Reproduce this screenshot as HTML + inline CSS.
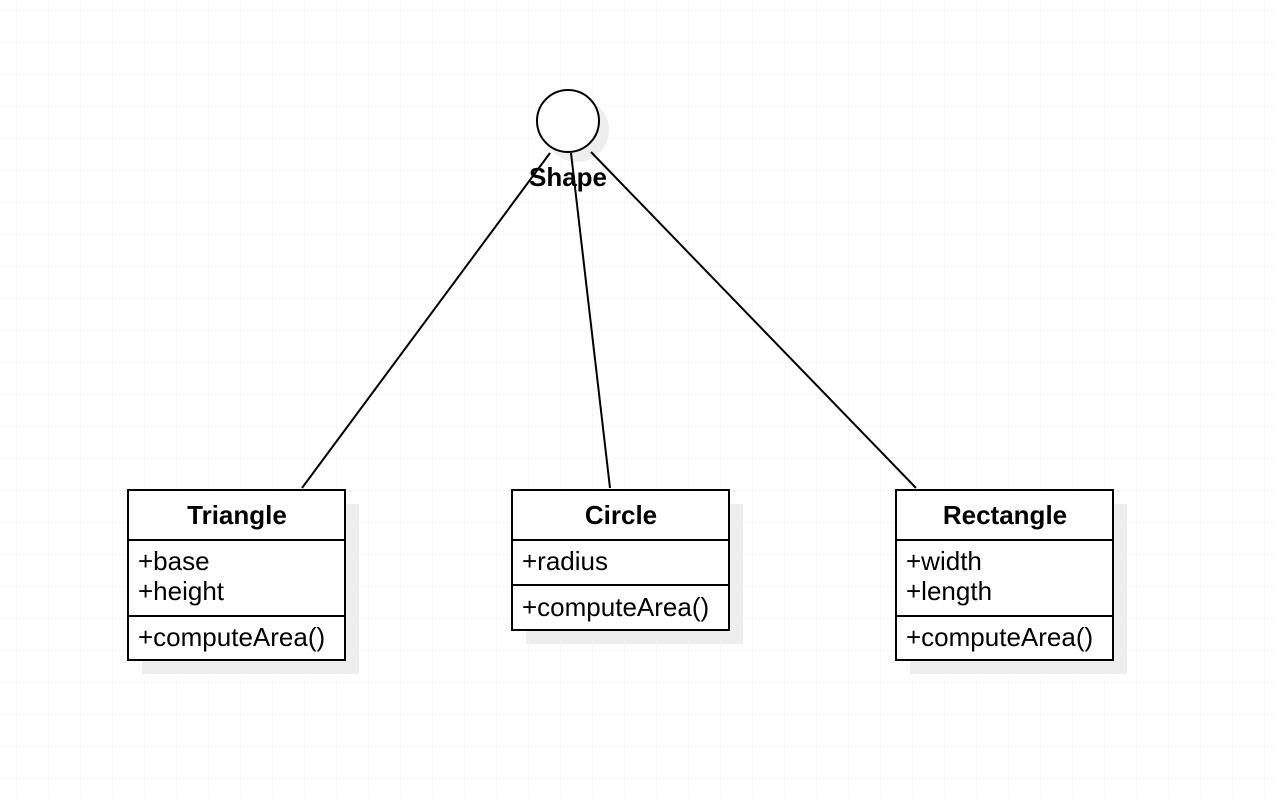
<!DOCTYPE html>
<html><head><style>
body{margin:0;background:#fff;}
svg{display:block;font-family:"Liberation Sans",sans-serif;}
</style></head><body>
<svg width="1276" height="798" xmlns="http://www.w3.org/2000/svg">
<defs>
<pattern id="g" x="16" y="10" width="32" height="32" patternUnits="userSpaceOnUse">
<path d="M0 0H32M0 0V32" stroke="#f0f0f0" stroke-width="1" fill="none"/>
</pattern>
</defs>
<rect width="1276" height="798" fill="url(#g)"/>
<circle cx="577" cy="130" r="32" fill="#eeeeee"/>
<rect x="142" y="504" width="217" height="170" fill="#eeeeee"/>
<rect x="526" y="504" width="217" height="140" fill="#eeeeee"/>
<rect x="910" y="504" width="217" height="170" fill="#eeeeee"/>
<g stroke="#000" stroke-width="2" fill="none">
<line x1="550" y1="153" x2="302" y2="488"/>
<line x1="571" y1="153" x2="610" y2="488"/>
<line x1="591" y1="152" x2="916" y2="488"/>
</g>
<circle cx="568" cy="121" r="31" fill="#fff" stroke="#000" stroke-width="2"/>
<text x="568" y="186" font-size="26" font-weight="bold" text-anchor="middle">Shape</text>
<g stroke="#000" stroke-width="2" fill="#fff">
<rect x="128" y="490" width="217" height="170"/>
<line x1="128" y1="540" x2="345" y2="540"/><line x1="128" y1="616" x2="345" y2="616"/>
<rect x="512" y="490" width="217" height="140"/>
<line x1="512" y1="540" x2="729" y2="540"/><line x1="512" y1="585" x2="729" y2="585"/>
<rect x="896" y="490" width="217" height="170"/>
<line x1="896" y1="540" x2="1113" y2="540"/><line x1="896" y1="616" x2="1113" y2="616"/>
</g>
<g font-size="26">
<text x="237" y="524" font-weight="bold" text-anchor="middle">Triangle</text>
<text x="138" y="570">+base</text><text x="138" y="600">+height</text>
<text x="138" y="646">+computeArea()</text>
<text x="621" y="524" font-weight="bold" text-anchor="middle">Circle</text>
<text x="522" y="570">+radius</text>
<text x="522" y="616">+computeArea()</text>
<text x="1005" y="524" font-weight="bold" text-anchor="middle">Rectangle</text>
<text x="906" y="570">+width</text><text x="906" y="600">+length</text>
<text x="906" y="646">+computeArea()</text>
</g>
</svg>
</body></html>
